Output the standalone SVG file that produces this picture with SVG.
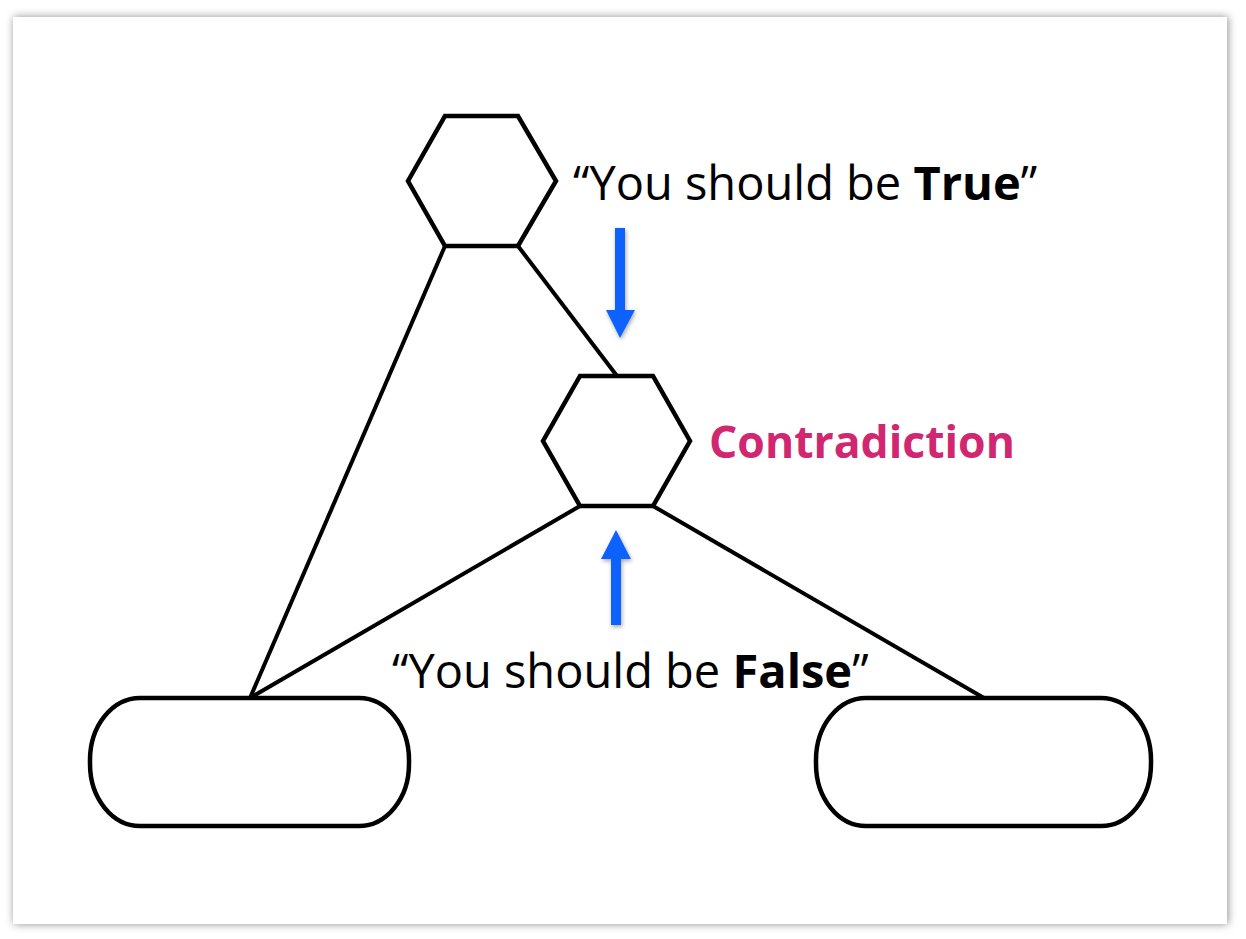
<svg xmlns="http://www.w3.org/2000/svg" width="1246" height="939" viewBox="0 0 1246 939">
<defs>
<filter id="sh" x="-5%" y="-5%" width="110%" height="110%">
<feDropShadow dx="1" dy="0" stdDeviation="4" flood-color="#000" flood-opacity="0.45"/>
</filter>
<filter id="ash" x="-50%" y="-20%" width="200%" height="140%">
<feDropShadow dx="1" dy="2" stdDeviation="2" flood-color="#000" flood-opacity="0.35"/>
</filter>
<style>
.shape{fill:#fff;stroke:#000;stroke-width:4.5;stroke-linejoin:miter}
.conn{fill:none;stroke:#000;stroke-width:4}
.arrow{fill:#0f62fe;filter:url(#ash)}
.lbl{font-family:"Open Sans","Noto Sans",sans-serif;font-size:47px;fill:#000}
.b{font-weight:bold}
.mag{font-family:"Open Sans","Noto Sans",sans-serif;font-size:44.5px;font-weight:bold;fill:#d12771}
</style>
</defs>
<rect x="0" y="0" width="1246" height="939" fill="#fff"/>
<rect x="13" y="17" width="1214" height="907" fill="#fff" filter="url(#sh)"/>
<g id="connectors">
<line class="conn" x1="445" y1="246" x2="250" y2="698"/>
<line class="conn" x1="518" y1="246" x2="617" y2="376"/>
<line class="conn" x1="580" y1="506" x2="250" y2="698"/>
<line class="conn" x1="653" y1="506" x2="984" y2="698"/>
</g>
<g id="hex-top">
<polygon class="shape" points="445,116 518,116 556,181 518,246 445,246 408,181"/>
</g>
<g id="hex-mid">
<polygon class="shape" points="580,376 653,376 690,441 653,506 580,506 543,441"/>
</g>
<g id="pill-left">
<rect class="shape" x="90" y="698" width="319" height="128" rx="50" ry="62"/>
</g>
<g id="pill-right">
<rect class="shape" x="816" y="698" width="335" height="128" rx="50" ry="62"/>
</g>
<g id="arrow-down">
<path class="arrow" d="M615,228 H625 V310 H635 L620,338 L606,310 H615 Z"/>
</g>
<g id="arrow-up">
<path class="arrow" d="M611,625 H621 V559 H631 L616,530 L601,559 H611 Z"/>
</g>
<g id="labels">
<text class="lbl" x="573" y="200">“You should be <tspan class="b">True</tspan>”</text>
<text class="mag" x="709" y="458">Contradiction</text>
<text class="lbl" x="392" y="688">“You should be <tspan class="b">False</tspan>”</text>
</g>
</svg>
